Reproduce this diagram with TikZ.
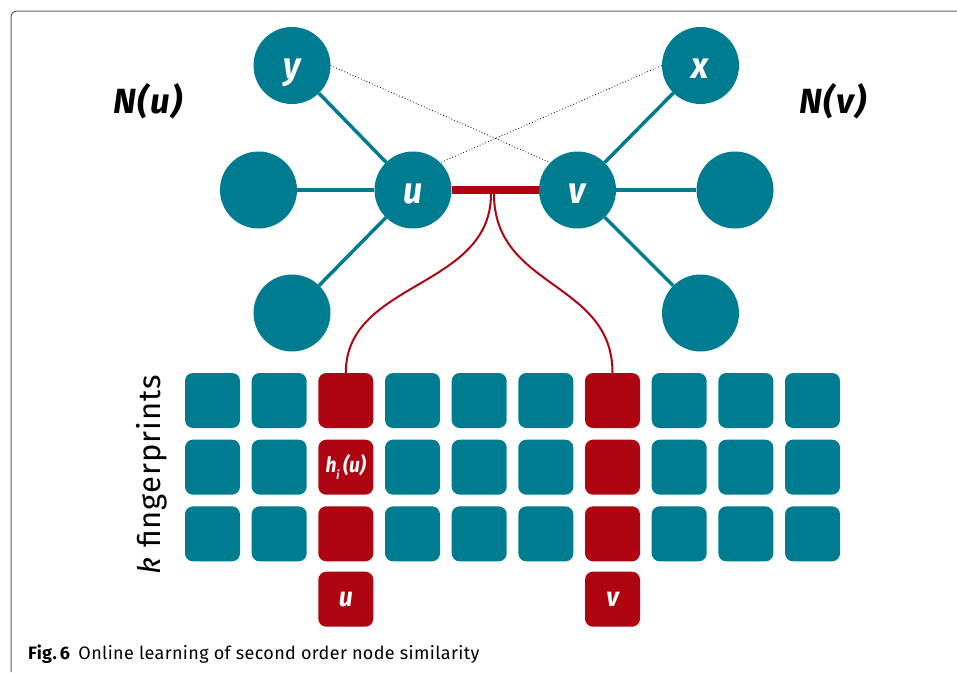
\documentclass[tikz,border=0pt]{standalone}
\usepackage{fontspec}
\setmainfont{Fira Sans}
\newfontfamily\condfont[FakeStretch=0.92]{Fira Sans}
\newfontfamily\labfont[LetterSpace=4]{Fira Sans}
\newfontfamily\capfont[LetterSpace=2]{Fira Sans}
\newfontfamily\kfont[LetterSpace=3]{Fira Sans}
\usetikzlibrary{calc}
\definecolor{tealc}{RGB}{0,124,145}
\definecolor{redc}{RGB}{175,4,17}
\definecolor{framec}{RGB}{95,95,95}
\begin{document}
\begin{tikzpicture}[x=1pt,y=-1pt,
  vtx/.style={circle,fill=tealc,minimum size=77pt,inner sep=0pt,text=white,
    text height=26pt,text depth=0pt,
    font=\condfont\bfseries\itshape\fontsize{37}{37}\selectfont},
  nbedge/.style={tealc,line width=3.5pt},
  simline/.style={black,line width=0.8pt,dash pattern=on 0.8pt off 2.2pt},
  cell/.style={rounded corners=8pt,fill=tealc,minimum size=55pt,inner sep=0pt},
  hot/.style={cell,fill=redc,text=white,
    font=\condfont\bfseries\itshape\fontsize{27}{27}\selectfont},
  biglabel/.style={font=\labfont\bfseries\itshape\fontsize{35}{35}\selectfont,inner sep=0pt},
  wire/.style={redc,line width=2pt}]
\useasboundingbox (0,0) rectangle (957,672);
\draw[framec,line width=1pt,rounded corners=6pt] (11,672) -- (11,11) -- (957,11);

% graph
\node[vtx] (u) at (413,190) {u};
\node[vtx] (v) at (577.5,190) {v};
\node[vtx] (y) at (292,65.5) {y};
\node[vtx] (x) at (700.5,65.5) {x};
\node[vtx] (l) at (258.5,190) {};
\node[vtx] (r) at (735,190) {};
\node[vtx] (ll) at (292,313) {};
\node[vtx] (lr) at (700.5,313) {};

\draw[nbedge] (u) -- (y);
\draw[nbedge] (u) -- (l);
\draw[nbedge] (u) -- (ll);
\draw[nbedge] (v) -- (x);
\draw[nbedge] (v) -- (r);
\draw[nbedge] (v) -- (lr);

\draw[simline] (y.east) -- (v.north west);
\draw[simline] (x.west) -- (u.north east);

\draw[redc,line width=8pt] (u.east) -- (v.west);

\node[biglabel] (Nu) at (148,101) {N(u)};
\node[biglabel] (Nv) at (833,101) {N(v)};

% fingerprints
\foreach \c in {0,1,3,4,5,7,8,9}{
  \foreach \r in {0,1,2}{
    \node[cell] (s\r\c) at ({212.5+66.67*\c},{400.5+66.67*\r}) {};
  }
}
\node[hot] (s02) at (345.8,400.5) {};
\node[hot,font=\condfont\bfseries\itshape\fontsize{21}{21}\selectfont] (s12) at (345.8,467.2) {h\raisebox{-0.35em}{\fontsize{12}{12}\selectfont i}\,(u)};
\node[hot] (s22) at (345.8,533.8) {};
\node[hot] (su) at (345.8,599.2) {u};
\node[hot] (s06) at (612.5,400.5) {};
\node[hot] (s16) at (612.5,467.2) {};
\node[hot] (s26) at (612.5,533.8) {};
\node[hot] (sv) at (612.5,599.2) {v};

\coordinate (bl) at (491,194);
\coordinate (br) at (494,194);
\draw[wire] (bl) .. controls ($(bl)+(0,95)$) and ($(s02.north)+(0,-92)$) .. (s02.north);
\draw[wire] (br) .. controls ($(br)+(0,95)$) and ($(s06.north)+(0,-92)$) .. (s06.north);

\node[rotate=90,font=\kfont\fontsize{31}{31}\selectfont,inner sep=0pt] (kf) at (152,475) {\textit{k} fingerprints};

\node[anchor=base west,inner sep=0pt,font=\capfont\fontsize{18}{18}\selectfont] (cap) at (28,659)
  {\textbf{Fig.\,6}\hspace{0.45em}Online learning of second order node similarity};
\end{tikzpicture}
\end{document}
